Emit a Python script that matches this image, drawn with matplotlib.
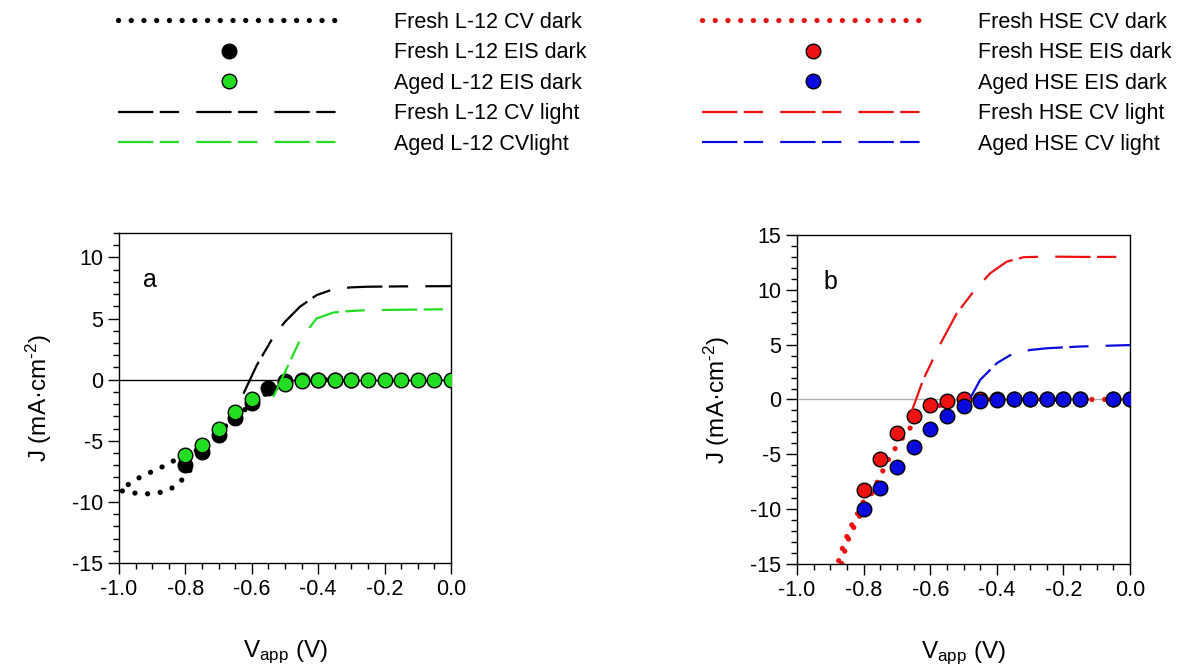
import numpy as np
import matplotlib
matplotlib.use("Agg")
import matplotlib.pyplot as plt
from matplotlib.ticker import MultipleLocator, FormatStrFormatter

plt.rcParams['font.family'] = ['Liberation Sans', 'DejaVu Sans']
plt.rcParams['mathtext.default'] = 'regular'
plt.rcParams['axes.unicode_minus'] = False

# ---- panel a : L-12 ----
# CV dark (one loop, in scan order)
a_cv_dark_v = [-0.30, -0.35, -0.40, -0.45, -0.50, -0.55, -0.60, -0.65, -0.70, -0.75, -0.78,
               -0.816, -0.851, -0.892, -0.927, -0.962, -0.997,
               -0.972, -0.937, -0.902, -0.861, -0.826, -0.80, -0.78]
a_cv_dark_j = [0.0, 0.0, -0.02, -0.08, -0.35, -1.0, -2.0, -3.1, -4.3, -5.5, -6.0,
               -6.34, -6.89, -7.43, -7.84, -8.39, -9.07,
               -9.2, -9.34, -9.34, -9.16, -8.66, -7.9, -7.2]

a_eis_fresh_v = [-0.80, -0.75, -0.70, -0.65, -0.60, -0.55, -0.50, -0.45, -0.40, -0.35, -0.30]
a_eis_fresh_j = [-7.0, -5.9, -4.5, -3.1, -1.9, -0.7, -0.15, -0.02, 0.0, 0.0, 0.0]

a_eis_aged_v = [-0.80, -0.75, -0.70, -0.65, -0.60, -0.50, -0.45, -0.40, -0.35, -0.30,
                -0.25, -0.20, -0.15, -0.10, -0.05, 0.0]
a_eis_aged_j = [-6.15, -5.33, -4.02, -2.65, -1.56, -0.33, -0.10, 0.0, 0.0, 0.0,
                0.0, 0.0, 0.0, 0.0, 0.0, 0.0]

a_cv_light_fresh_v = [-0.625, -0.585, -0.535, -0.50, -0.455, -0.405, -0.354, -0.30, -0.254, -0.15, 0.0]
a_cv_light_fresh_j = [-1.15, 1.17, 3.5, 4.73, 5.96, 6.91, 7.4, 7.55, 7.6, 7.63, 7.65]

a_cv_light_aged_v = [-0.535, -0.495, -0.455, -0.405, -0.354, -0.30, -0.254, -0.15, 0.0]
a_cv_light_aged_j = [-1.42, 0.9, 3.22, 5.0, 5.49, 5.62, 5.68, 5.72, 5.76]

# ---- panel b : HSE ----
b_cv_dark_v = [0.0, -0.05, -0.10, -0.15, -0.20, -0.25, -0.30, -0.35, -0.40, -0.45, -0.50,
               -0.55, -0.60, -0.65, -0.696, -0.726, -0.761, -0.796, -0.826, -0.851, -0.866, -0.885,
               -0.878, -0.862, -0.84, -0.81, -0.78]
b_cv_dark_j = [0.0, 0.0, 0.0, 0.0, 0.0, 0.0, 0.0, 0.0, 0.0, 0.0, -0.05,
               -0.3, -0.9, -2.2, -4.0, -5.52, -7.64, -9.76, -11.43, -13.1, -15.0, -16.5,
               -15.0, -13.4, -11.7, -9.9, -8.0]

b_eis_fresh_v = [-0.80, -0.75, -0.70, -0.65, -0.60, -0.55, -0.50, -0.45, -0.40, -0.35, -0.30,
                 -0.25, -0.20, -0.15, -0.05, 0.0]
b_eis_fresh_j = [-8.22, -5.43, -3.07, -1.55, -0.55, -0.18, 0.0, 0.0, 0.0, 0.0, 0.0,
                 0.0, 0.0, 0.0, 0.0, 0.0]

b_eis_aged_v = [-0.80, -0.75, -0.70, -0.65, -0.60, -0.55, -0.50, -0.45, -0.40, -0.35, -0.30,
                -0.25, -0.20, -0.15, -0.05, 0.0]
b_eis_aged_j = [-9.98, -8.07, -6.19, -4.37, -2.70, -1.55, -0.64, -0.18, -0.05, 0.0, 0.0,
                0.0, 0.0, 0.0, 0.0, 0.0]

b_cv_light_fresh_v = [-0.661, -0.621, -0.566, -0.52, -0.47, -0.42, -0.37, -0.32, -0.25, -0.15, 0.0]
b_cv_light_fresh_j = [-1.52, 1.82, 5.28, 7.87, 9.84, 11.51, 12.57, 12.97, 13.03, 13.0, 13.0]

b_cv_light_aged_v = [-0.48, -0.45, -0.40, -0.35, -0.30, -0.25, -0.15, 0.0]
b_cv_light_aged_j = [0.12, 1.79, 3.31, 4.22, 4.51, 4.67, 4.83, 4.96]

labels_a = ['Fresh L-12 CV dark', 'Fresh L-12 EIS dark', 'Aged L-12 EIS dark',
            'Fresh L-12 CV light', 'Aged L-12 CVlight']
labels_b = ['Fresh HSE CV dark', 'Fresh HSE EIS dark', 'Aged HSE EIS dark',
            'Fresh HSE CV light', 'Aged HSE CV light']

GREEN = '#22dd22'
RED = '#ee1111'
BLUE = '#0a0ae0'
DASH = (0, (15.9, 2.9, 8.7, 7.7))
DOT = (0, (0.01, 2.4))

fig = plt.figure(figsize=(11.98, 6.66), dpi=100)
ax_a = fig.add_axes([0.0993, 0.1547, 0.2771, 0.4955])
ax_b = fig.add_axes([0.6653, 0.1532, 0.2780, 0.4940])


def style(ax, ylim):
    ax.set_xlim(-1.0, 0.0)
    ax.set_ylim(*ylim)
    ax.xaxis.set_major_locator(MultipleLocator(0.2))
    ax.xaxis.set_minor_locator(MultipleLocator(0.05))
    ax.yaxis.set_major_locator(MultipleLocator(5))
    ax.yaxis.set_minor_locator(MultipleLocator(1))
    ax.xaxis.set_major_formatter(FormatStrFormatter('%.1f'))
    ax.tick_params(which='both', direction='out', top=False, right=False, width=1)
    ax.tick_params(which='major', length=8, labelsize=15.5)
    ax.tick_params(which='minor', length=4)
    for s in ax.spines.values():
        s.set_linewidth(1.0)
    ax.set_xlabel('V$_{app}$ (V)', fontsize=17.5, labelpad=28)
    ax.set_ylabel('J (mA\u00b7cm$^{\u20102}$)', fontsize=17.5, labelpad=13)


def panel(ax, cv_dark, eis_f, eis_a, light_f, light_a, c_dark, c_fresh, c_aged, zero_color):
    ax.axhline(0, color=zero_color, lw=1.0, zorder=1)
    h1, = ax.plot(*cv_dark, color=c_dark, lw=3.8, ls=DOT, dash_capstyle='round', zorder=2)
    h2, = ax.plot(*eis_f, ls='none', marker='o', ms=10.5, mfc=c_fresh, mec='black', mew=1.0, zorder=3)
    h3, = ax.plot(*eis_a, ls='none', marker='o', ms=10.5, mfc=c_aged, mec='black', mew=1.0, zorder=4)
    h4, = ax.plot(*light_f, color=c_fresh, lw=1.6, ls=DASH, zorder=5)
    h5, = ax.plot(*light_a, color=c_aged, lw=1.6, ls=DASH, zorder=5)
    return [h1, h2, h3, h4, h5]


hs_a = panel(ax_a, (a_cv_dark_v, a_cv_dark_j), (a_eis_fresh_v, a_eis_fresh_j),
             (a_eis_aged_v, a_eis_aged_j), (a_cv_light_fresh_v, a_cv_light_fresh_j),
             (a_cv_light_aged_v, a_cv_light_aged_j), 'black', 'black', GREEN, 'black')
hs_b = panel(ax_b, (b_cv_dark_v, b_cv_dark_j), (b_eis_fresh_v, b_eis_fresh_j),
             (b_eis_aged_v, b_eis_aged_j), (b_cv_light_fresh_v, b_cv_light_fresh_j),
             (b_cv_light_aged_v, b_cv_light_aged_j), RED, RED, BLUE, '#b0b0b0')
style(ax_a, (-15, 12))
style(ax_b, (-15, 15))

ax_a.text(0.093, 0.857, 'a', transform=ax_a.transAxes, fontsize=18, ha='center', va='center')
ax_b.text(0.10, 0.857, 'b', transform=ax_b.transAxes, fontsize=18, ha='center', va='center')

leg_kw = dict(loc='upper left', frameon=False, fontsize=15.5, handlelength=10.3,
              handletextpad=2.5, labelspacing=0.44, borderpad=0, borderaxespad=0, numpoints=1)
fig.legend(hs_a, labels_a, bbox_to_anchor=(118 / 1198, 1 - 12 / 666), **leg_kw)
fig.legend(hs_b, labels_b, bbox_to_anchor=(702 / 1198, 1 - 12 / 666), **leg_kw)

fig.savefig('out.png', dpi=100)
